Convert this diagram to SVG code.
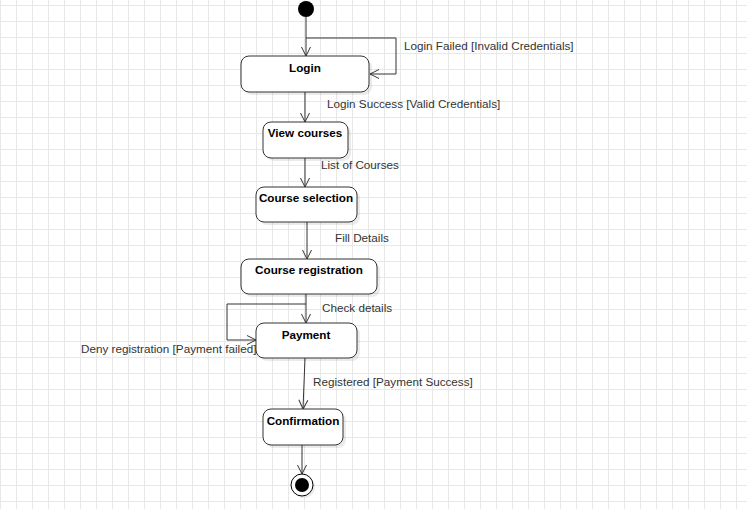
<svg xmlns="http://www.w3.org/2000/svg" width="747" height="509" viewBox="0 0 747 509">
  <style>
    .node rect.box { fill: #ffffff; stroke: #333333; stroke-width: 1; }
    .node rect.shadow { fill: #000000; opacity: 0.08; }
    .node text { font-family: "Liberation Sans", Arial, sans-serif; font-size: 11.7px; font-weight: bold; fill: #000000; text-anchor: middle; }
    .edges path { fill: none; stroke: #333333; stroke-width: 1; }
    .label { font-family: "Liberation Sans", Arial, sans-serif; font-size: 11.7px; fill: #333333; }
  </style>
  <defs>
    <pattern id="grid" patternUnits="userSpaceOnUse" x="0" y="5" width="16" height="16">
      <path d="M0 0.5H16M0.5 0V16" fill="none" stroke="#e8e8e8" stroke-width="1"/>
    </pattern>
    <marker id="open" markerUnits="userSpaceOnUse" markerWidth="12" markerHeight="12" viewBox="-11 -6 12 12" refX="0" refY="0" orient="auto">
      <path d="M-9,-4.5 L0,0 L-9,4.5" fill="none" stroke="#333333" stroke-width="1"/>
    </marker>
  </defs>

  <!-- background grid -->
  <rect width="747" height="509" fill="#ffffff"/>
  <rect width="747" height="509" fill="url(#grid)"/>

  <!-- transitions -->
  <g class="edges">
    <path d="M306,17 V56" marker-end="url(#open)"/>
    <path d="M306,38 H396 V74 H370" marker-end="url(#open)"/>
    <path d="M305,92 V122" marker-end="url(#open)"/>
    <path d="M305,158 V187" marker-end="url(#open)"/>
    <path d="M307,222 V259" marker-end="url(#open)"/>
    <path d="M306,294 V323" marker-end="url(#open)"/>
    <path d="M306,304 H227 V340 H256" marker-end="url(#open)"/>
    <path d="M305,358 L303,409" marker-end="url(#open)"/>
    <path d="M302,445 V474" marker-end="url(#open)"/>
  </g>

  <!-- transition labels -->
  <g class="labels">
    <text class="label" x="404" y="50">Login Failed [Invalid Credentials]</text>
    <text class="label" x="327" y="108">Login Success [Valid Credentials]</text>
    <text class="label" x="321" y="169">List of Courses</text>
    <text class="label" x="335" y="242">Fill Details</text>
    <text class="label" x="322" y="312">Check details</text>
    <text class="label" x="81" y="353">Deny registration [Payment failed]</text>
    <text class="label" x="313" y="386">Registered [Payment Success]</text>
  </g>

  <!-- initial state -->
  <g id="start" class="node">
    <circle cx="306" cy="9" r="8" fill="#000000"/>
  </g>

  <g id="login" class="node">
    <rect class="shadow" x="244" y="59" width="128" height="36" rx="8"/>
    <rect class="box" x="241" y="56" width="128" height="36" rx="8"/>
    <text x="305" y="72">Login</text>
  </g>

  <g id="view-courses" class="node">
    <rect class="shadow" x="266" y="125" width="85" height="36" rx="8"/>
    <rect class="box" x="263" y="122" width="85" height="36" rx="8"/>
    <text x="305" y="137">View courses</text>
  </g>

  <g id="course-selection" class="node">
    <rect class="shadow" x="259" y="190" width="101" height="35" rx="8"/>
    <rect class="box" x="256" y="187" width="101" height="35" rx="8"/>
    <text x="306" y="202">Course selection</text>
  </g>

  <g id="course-registration" class="node">
    <rect class="shadow" x="244" y="262" width="136" height="35" rx="8"/>
    <rect class="box" x="241" y="259" width="136" height="35" rx="8"/>
    <text x="309" y="274">Course registration</text>
  </g>

  <g id="payment" class="node">
    <rect class="shadow" x="259" y="326" width="101" height="35" rx="8"/>
    <rect class="box" x="256" y="323" width="101" height="35" rx="8"/>
    <text x="306" y="339">Payment</text>
  </g>

  <g id="confirmation" class="node">
    <rect class="shadow" x="266" y="412" width="80" height="36" rx="8"/>
    <rect class="box" x="263" y="409" width="80" height="36" rx="8"/>
    <text x="303" y="425">Confirmation</text>
  </g>

  <!-- final state -->
  <g id="end" class="node">
    <circle cx="304" cy="487" r="11" fill="#000000" opacity="0.08"/>
    <circle cx="302" cy="485" r="11" fill="#ffffff" stroke="#000000" stroke-width="1"/>
    <circle cx="302" cy="485" r="7" fill="#000000"/>
  </g>
</svg>
